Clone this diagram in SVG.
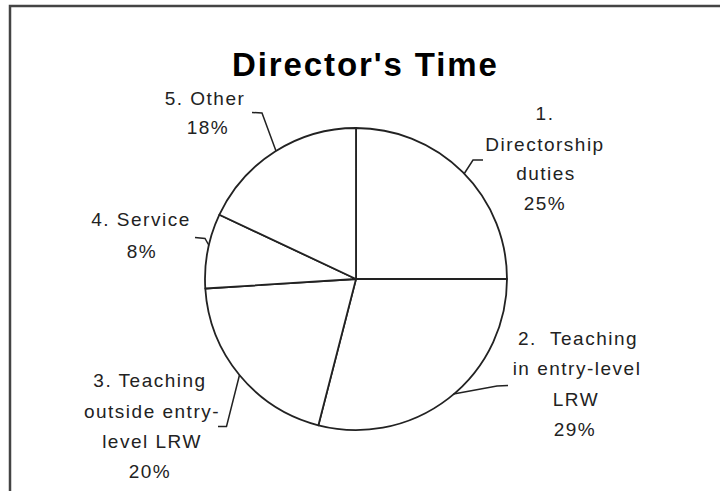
<svg xmlns="http://www.w3.org/2000/svg" width="720" height="491" viewBox="0 0 720 491">
<style>
.slice{fill:#ffffff;stroke:#222;stroke-width:1.8;stroke-linejoin:round}
.lbl{font-family:"Liberation Sans",Arial,sans-serif;font-size:19px;letter-spacing:1.5px;fill:#222;text-anchor:middle}
.title{font-family:"Liberation Sans",Arial,sans-serif;font-size:33px;font-weight:bold;letter-spacing:1.9px;fill:#000}
.leader{fill:none;stroke:#222;stroke-width:1.5}
</style>
<rect x="0" y="0" width="720" height="491" fill="#ffffff"/>
<path d="M10,491 V6 H720" fill="none" stroke="#444" stroke-width="2.5"/>
<text class="title" x="232" y="76">Director's Time</text>
<g id="slice1">
<path class="slice" d="M356,279 L356,128 A151,151 0 0 1 507,279 Z"/>
<text class="lbl" x="545" y="120">1.</text>
<text class="lbl" x="545" y="151">Directorship</text>
<text class="lbl" x="546" y="180">duties</text>
<text class="lbl" x="545" y="210">25%</text>
</g>
<g id="slice2">
<path class="slice" d="M356,279 L507,279 A151,151 0 0 1 318.4,425.3 Z"/>
<text class="lbl" x="578" y="345" xml:space="preserve">2.  Teaching</text>
<text class="lbl" x="577" y="375">in entry-level</text>
<text class="lbl" x="576" y="406">LRW</text>
<text class="lbl" x="575" y="436">29%</text>
</g>
<g id="slice3">
<path class="slice" d="M356,279 L318.4,425.3 A151,151 0 0 1 205.3,288.5 Z"/>
<text class="lbl" x="150" y="387">3. Teaching</text>
<text class="lbl" x="152" y="418">outside entry-</text>
<text class="lbl" x="152" y="448">level LRW</text>
<text class="lbl" x="150" y="478">20%</text>
</g>
<g id="slice4">
<path class="slice" d="M356,279 L205.3,288.5 A151,151 0 0 1 219.4,214.7 Z"/>
<text class="lbl" x="141" y="226">4. Service</text>
<text class="lbl" x="142" y="258">8%</text>
</g>
<g id="slice5">
<path class="slice" d="M356,279 L219.4,214.7 A151,151 0 0 1 356,128 Z"/>
<text class="lbl" x="205" y="105">5. Other</text>
<text class="lbl" x="208" y="134">18%</text>
</g>
<g id="connectors">
<path class="leader" d="M464,174 L473,160 L483,160"/>
<path class="leader" d="M453.5,394 L497,386 L508,385.5"/>
<path class="leader" d="M239.5,375 L226.5,426.5 L218,426.5"/>
<path class="leader" d="M209,245.5 L205,238.5 L195,237.5"/>
<path class="leader" d="M276,151 L262,113 L252,112.5"/>
</g>
</svg>
